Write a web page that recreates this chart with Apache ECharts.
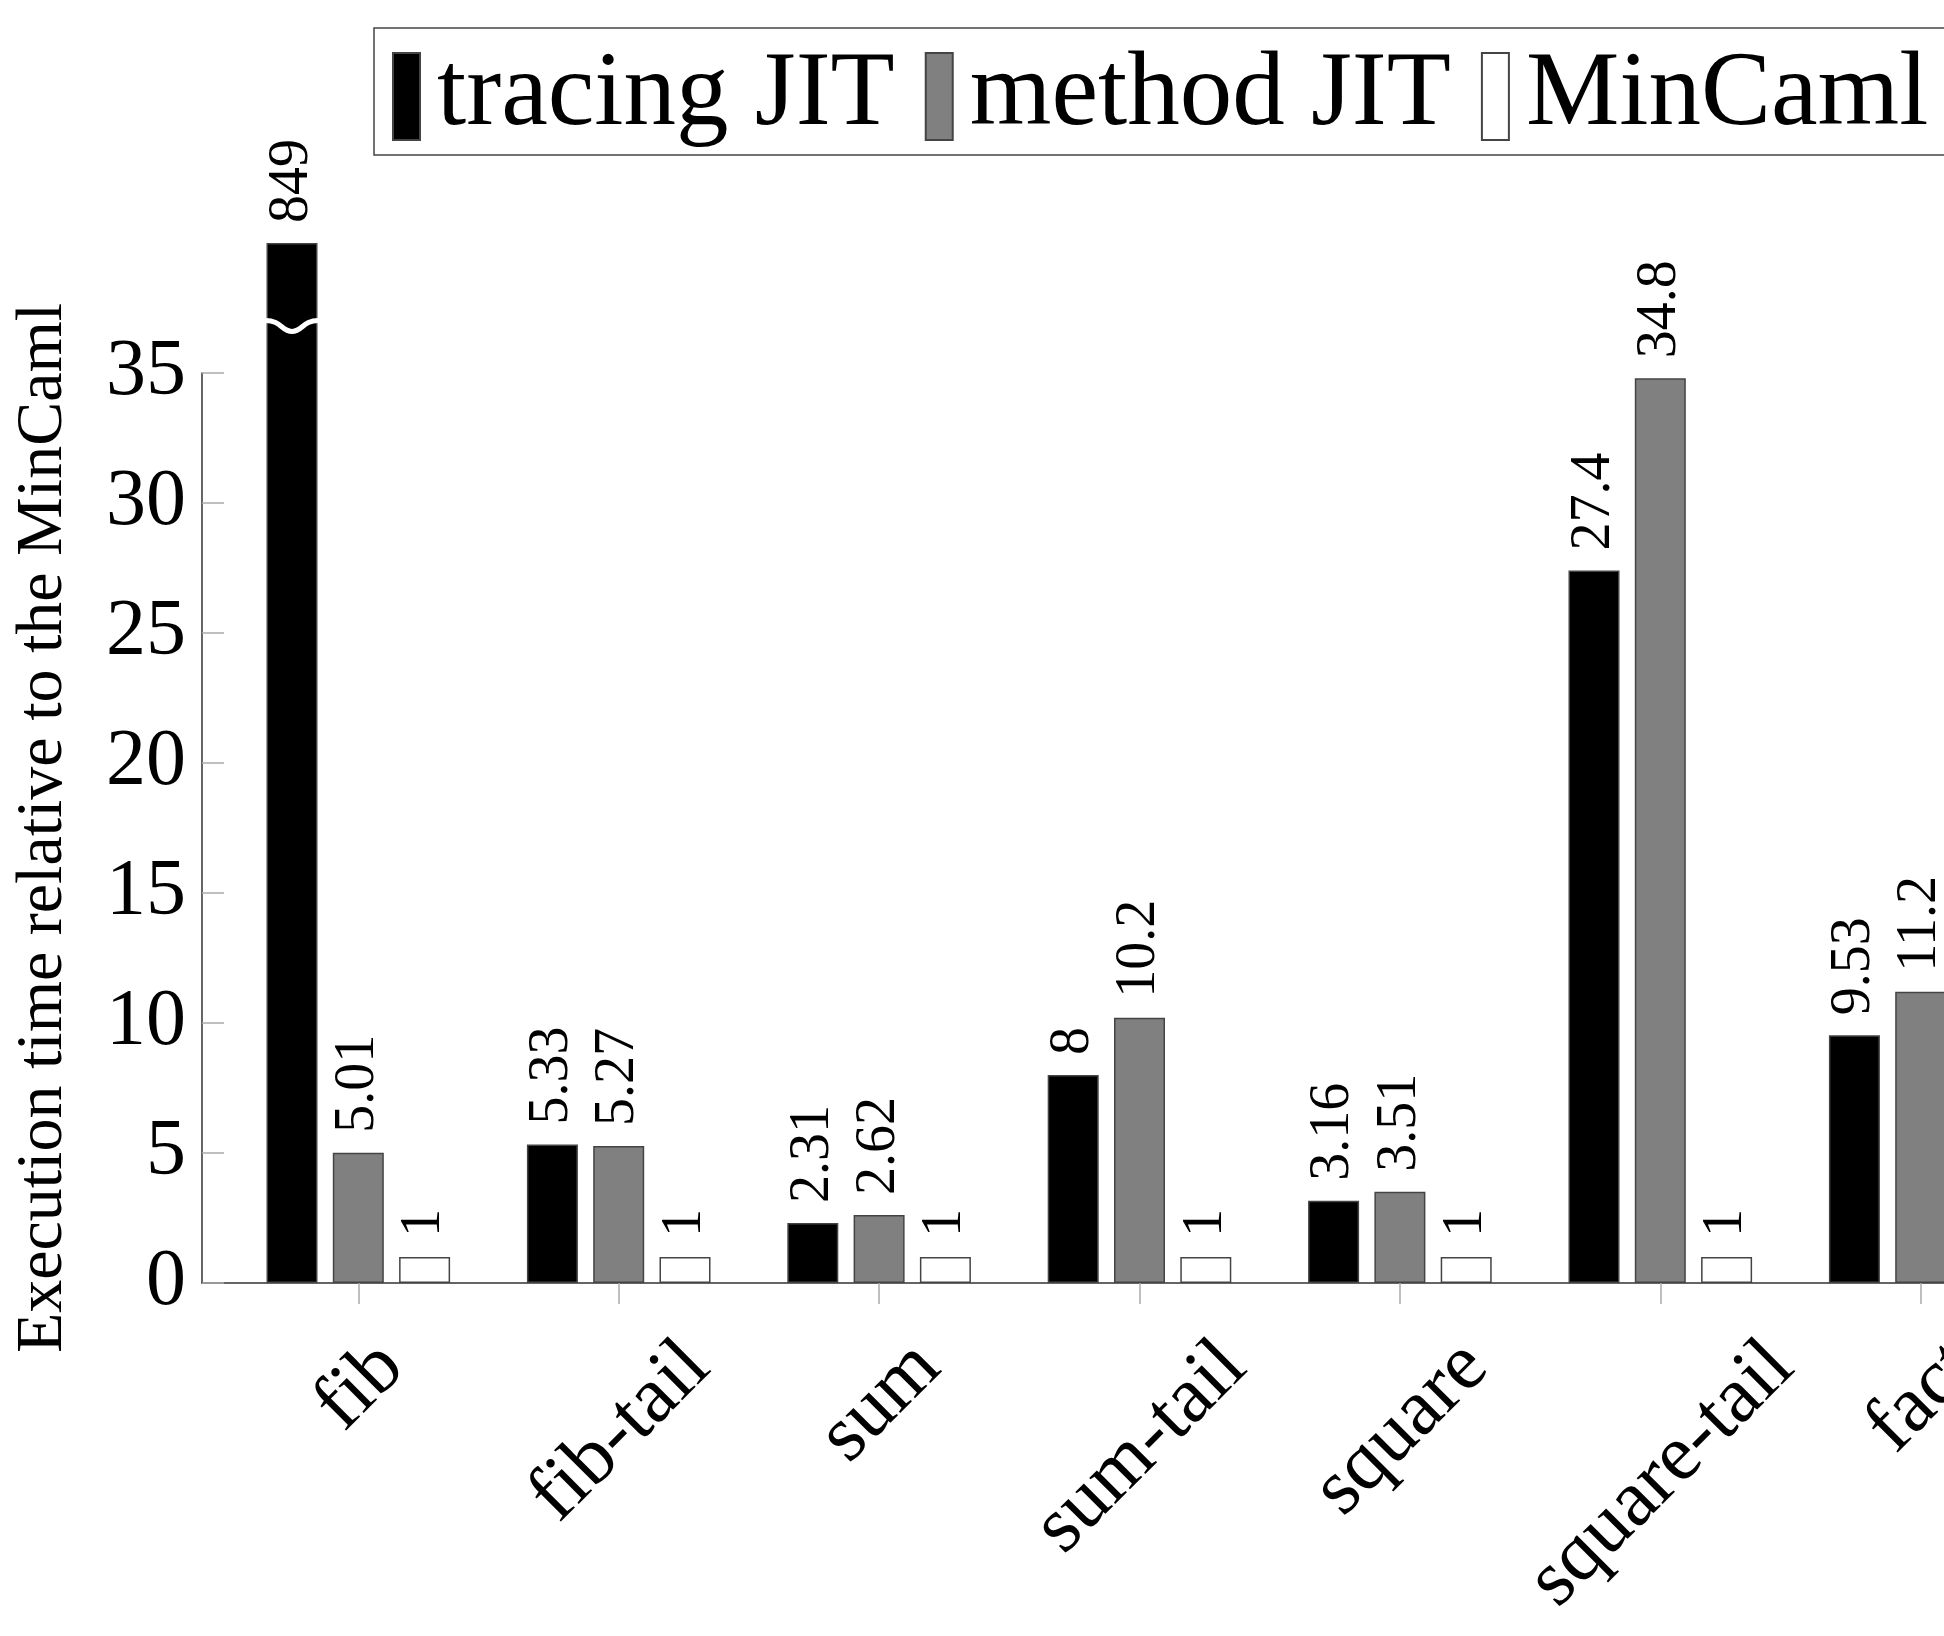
<!DOCTYPE html>
<html>
<head>
<meta charset="utf-8">
<script src="https://cdn.jsdelivr.net/npm/echarts@6/dist/echarts.min.js"></script>
<style>
html,body{margin:0;padding:0;background:#fff;}
#chart{width:1944px;height:1636px;}
</style>
</head>
<body>
<div id="chart"></div>
<script>
// ---- data ----
const categories = ['fib', 'fib-tail', 'sum', 'sum-tail', 'square', 'square-tail', 'fact'];
const tracingJIT = [849, 5.33, 2.31, 8, 3.16, 27.4, 9.53];
const methodJIT  = [5.01, 5.27, 2.62, 10.2, 3.51, 34.8, 11.2];
const minCaml    = [1, 1, 1, 1, 1, 1, 1];
const yTicks = [0, 5, 10, 15, 20, 25, 30, 35];
const seriesNames = ['tracing JIT', 'method JIT', 'MinCaml'];
const Y_MAX = 35;        // axis top
const BAR_CAP = 40;      // drawn height of bars that exceed the axis (broken bar)
const BREAK_AT = 36.6;   // where the break symbol sits

// ---- style constants ----
const FONT = '"Liberation Serif", "Times New Roman", serif';
const BAR_W = 51;
const BAR_GAP = 0.3;
const BORDER = '#444';
const XLABEL_FS = 80;
const XLABEL_TOP = 44;   // px below axis line where the rotated label box starts
const XLABEL_DX = 2;

const measureCtx = document.createElement('canvas').getContext('2d');
measureCtx.font = XLABEL_FS + 'px ' + FONT;
function textW(t) { return measureCtx.measureText(t).width; }

const chart = echarts.init(document.getElementById('chart'), null, {renderer: 'canvas'});

function capped(arr) {
  return arr.map(v => v > Y_MAX ? {value: BAR_CAP, realValue: v} : {value: v, realValue: v});
}

const labelCfg = {
  show: true,
  position: 'top',
  rotate: 90,
  align: 'left',
  verticalAlign: 'middle',
  distance: 20,
  fontFamily: FONT,
  fontSize: 56,
  color: '#000',
  formatter: p => String(p.data.realValue)
};

function barSeries(name, arr, color) {
  return {
    name: name,
    type: 'bar',
    xAxisIndex: 0,
    yAxisIndex: 0,
    data: capped(arr),
    barWidth: BAR_W,
    barGap: (BAR_GAP * 100) + '%',
    clip: false,
    itemStyle: {color: color, borderColor: BORDER, borderWidth: 1.5},
    label: labelCfg,
    emphasis: {disabled: true},
    animation: false
  };
}

const breakData = tracingJIT
  .map((v, i) => v > Y_MAX ? [i, BREAK_AT] : null)
  .filter(d => d !== null);

const option = {
  backgroundColor: '#fff',
  animation: false,
  legend: {
    data: seriesNames,
    orient: 'horizontal',
    left: 374,
    top: 28,
    width: 1900,
    padding: [16, 120, 6, 18],
    itemGap: 30,
    itemWidth: 27,
    itemHeight: 87,
    icon: 'rect',
    borderColor: '#444',
    borderWidth: 1.5,
    textStyle: {fontFamily: FONT, fontSize: 105, color: '#000', lineHeight: 87, padding: [0, 0, 0, 12]},
    selectedMode: false
  },
  grid: [
    {left: 228.1, top: 373, bottom: 353, width: 1822.8, containLabel: false, outerBoundsMode: 'none'},
    {left: 202, top: 373, bottom: 353, width: 2000, containLabel: false, outerBoundsMode: 'none'}
  ],
  xAxis: [
    {
      type: 'category',
      gridIndex: 0,
      data: categories,
      boundaryGap: true,
      axisLine: {show: false},
      axisTick: {show: true, alignWithLabel: true, length: 21, lineStyle: {color: '#aaa', width: 1.5}},
      axisLabel: {show: false},
      splitLine: {show: false}
    },
    {
      type: 'value',
      gridIndex: 1,
      min: 0, max: 1,
      axisLine: {show: true, lineStyle: {color: '#333', width: 1.5}},
      axisTick: {show: false},
      axisLabel: {show: false},
      splitLine: {show: false}
    }
  ],
  yAxis: [
    {type: 'value', gridIndex: 0, min: 0, max: Y_MAX, show: false, splitLine: {show: false}},
    {
      type: 'value',
      gridIndex: 1,
      min: yTicks[0], max: yTicks[yTicks.length - 1], interval: 5,
      name: 'Execution time relative to the MinCaml',
      nameLocation: 'middle',
      nameRotate: 90,
      nameGap: 125,
      nameTextStyle: {fontFamily: FONT, fontSize: 66, color: '#000'},
      axisLine: {show: true, lineStyle: {color: '#333', width: 1.5}},
      axisTick: {show: true, inside: true, length: 22, lineStyle: {color: '#aaa', width: 1.5}},
      axisLabel: {fontFamily: FONT, fontSize: 80, color: '#000', margin: 16},
      splitLine: {show: false}
    }
  ],
  series: [
    barSeries(seriesNames[0], tracingJIT, '#000'),
    barSeries(seriesNames[1], methodJIT, '#808080'),
    barSeries(seriesNames[2], minCaml, '#fff'),
    {
      // break symbol on bars that exceed the axis
      type: 'custom',
      xAxisIndex: 0,
      yAxisIndex: 0,
      z: 10,
      clip: false,
      silent: true,
      data: breakData,
      renderItem: function (params, api) {
        const c = api.coord([api.value(0), api.value(1)]);
        const off = BAR_W + BAR_W * BAR_GAP;
        const xc = c[0] - off;
        const x0 = xc - BAR_W / 2 - 1, x1 = xc + BAR_W / 2 + 1;
        const yc = c[1];
        const ye = yc - 11;
        const w = x1 - x0;
        return {
          type: 'path',
          shape: {
            pathData: 'M' + x0 + ' ' + ye +
              ' C' + (x0 + w * 0.3) + ' ' + ye + ' ' + (xc - w * 0.2) + ' ' + yc + ' ' + xc + ' ' + yc +
              ' C' + (xc + w * 0.2) + ' ' + yc + ' ' + (x1 - w * 0.3) + ' ' + ye + ' ' + x1 + ' ' + ye
          },
          style: {fill: 'none', stroke: '#fff', lineWidth: 5}
        };
      }
    },
    {
      // category tick labels, rotated 45°, centred under their ticks
      type: 'custom',
      xAxisIndex: 0,
      yAxisIndex: 0,
      z: 10,
      clip: false,
      silent: true,
      data: categories.map((c, i) => [i, 0]),
      renderItem: function (params, api) {
        const i = api.value(0);
        const p = api.coord([i, 0]);
        const txt = categories[i];
        const w = textW(txt);
        const cx = p[0] + XLABEL_DX;
        const cy = p[1] + XLABEL_TOP + (w + XLABEL_FS) * Math.SQRT1_2 / 2;
        return {
          type: 'text',
          x: cx,
          y: cy,
          rotation: Math.PI / 4,
          style: {
            text: txt, x: 0, y: 0,
            align: 'center', verticalAlign: 'middle',
            fontFamily: FONT, fontSize: XLABEL_FS, fill: '#000'
          }
        };
      }
    }
  ]
};
chart.setOption(option);
</script>
</body>
</html>
